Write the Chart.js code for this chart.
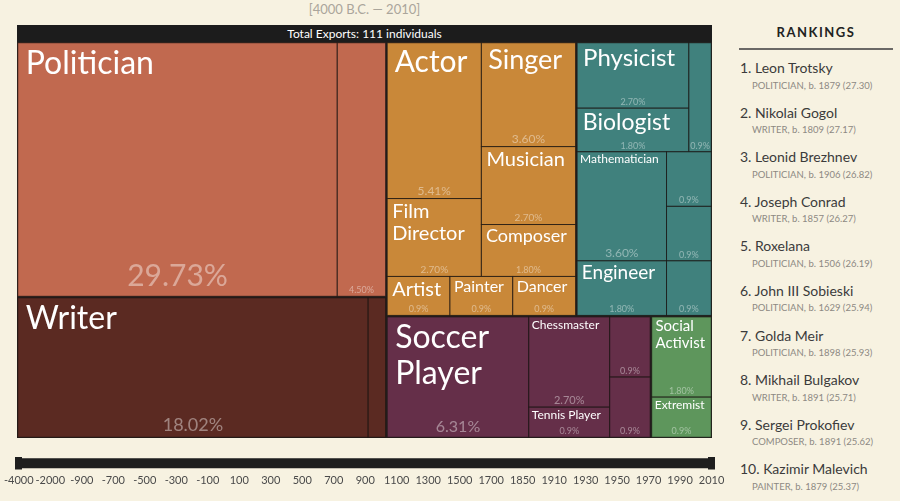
<!DOCTYPE html>
<html>
<head>
<meta charset="utf-8">
<script src="https://cdn.jsdelivr.net/npm/chart.js@4.4.1/dist/chart.umd.min.js"></script>
<style>
  body { margin: 0; width: 900px; height: 501px; overflow: hidden; position: relative;
         background: #f7f2e1; font-family: Lato, 'Open Sans', sans-serif; }
  #range { position: absolute; left: 17px; top: 1px; width: 695px; text-align: center;
           font-size: 13px; color: #aaa59b; }
  #titlebar { position: absolute; left: 17px; top: 25px; width: 695px; height: 17px; line-height: 17px;
              background: #1c1c1c; color: #fff; font-size: 12px; text-align: center; }
  #tree { position: absolute; left: 17px; top: 42px; }
  #timeline { position: absolute; left: 0; top: 440px; }
  #rankings { position: absolute; left: 739px; top: 0; width: 154px; }
  #rankings .head { padding-top: 24px; padding-bottom: 8px; line-height: 16px; text-align: center;
                    font-size: 13px; font-weight: bold; letter-spacing: 1.5px; color: #222;
                    border-bottom: 2px solid #6b6966; }
  #rankings .item { height: 44.6px; padding-top: 9px; box-sizing: border-box; }
  #rankings .name { font-size: 14px; line-height: 18px; color: #3b3b3b; padding-left: 1px; }
  #rankings .sub { font-size: 9.5px; line-height: 12px; color: #8d8983; padding-left: 13px; margin-top: 2.5px; }
</style>
</head>
<body>
<div id="range">[4000 B.C. — 2010]</div>
<div id="titlebar"></div>
<canvas id="tree" width="695" height="396"></canvas>
<canvas id="timeline" width="730" height="50"></canvas>
<div id="rankings"><div class="head">RANKINGS</div><div id="rankList"></div></div>

<script>
// occupations of the 111 people, with their industry and domain
const occupations = ['Politician', 'Military Personnel', 'Writer', 'Philosopher',
    'Actor', 'Film Director', 'Singer', 'Musician', 'Composer', 'Artist', 'Painter', 'Dancer',
    'Physicist', 'Biologist', 'Chemist', 'Mathematician', 'Statistician', 'Computer Scientist', 'Engineer', 'Inventor',
    'Soccer Player', 'Chessmaster', 'Tennis Player', 'Athlete', 'Boxer',
    'Social Activist', 'Extremist'];
const counts = [33, 5, 20, 1,
    6, 3, 4, 3, 2, 1, 1, 1,
    3, 2, 1, 4, 1, 1, 2, 1,
    7, 3, 1, 1, 1,
    2, 1];
const industries = ['Government', 'Military', 'Language', 'Philosophy',
    'Film and Theatre', 'Film and Theatre', 'Music', 'Music', 'Music', 'Fine Arts', 'Fine Arts', 'Dance',
    'Natural Sciences', 'Natural Sciences', 'Natural Sciences', 'Math', 'Math', 'Math', 'Engineering', 'Engineering',
    'Team Sports', 'Games', 'Tennis', 'Athletics', 'Combat Sports',
    'Activism', 'Activism'];
const domains = ['Institutions', 'Institutions', 'Humanities', 'Humanities',
    'Arts', 'Arts', 'Arts', 'Arts', 'Arts', 'Arts', 'Arts', 'Arts',
    'Science & Technology', 'Science & Technology', 'Science & Technology', 'Science & Technology',
    'Science & Technology', 'Science & Technology', 'Science & Technology', 'Science & Technology',
    'Sports', 'Sports', 'Sports', 'Sports', 'Sports',
    'Public Figure', 'Public Figure'];

// timeline slider
const timelineLabels = ['-4000', '-2000', '-900', '-700', '-500', '-300', '-100', '100', '300', '500', '700', '900',
    '1100', '1300', '1500', '1700', '1850', '1910', '1930', '1950', '1970', '1990', '2010'];
const selectedRange = ['-4000', '2010'];

// rankings panel
const rankNames = ['Leon Trotsky', 'Nikolai Gogol', 'Leonid Brezhnev', 'Joseph Conrad', 'Roxelana',
    'John III Sobieski', 'Golda Meir', 'Mikhail Bulgakov', 'Sergei Prokofiev', 'Kazimir Malevich'];
const rankOccupations = ['POLITICIAN', 'WRITER', 'POLITICIAN', 'WRITER', 'POLITICIAN',
    'POLITICIAN', 'POLITICIAN', 'WRITER', 'COMPOSER', 'PAINTER'];
const rankBirthYears = [1879, 1809, 1906, 1857, 1506, 1629, 1898, 1891, 1891, 1879];
const rankScores = ['27.30', '27.17', '26.82', '26.27', '26.19', '25.94', '25.93', '25.71', '25.62', '25.37'];

// colours per domain
const domainColors = {
    'Institutions': '#c1694f',
    'Humanities': '#5b2a22',
    'Arts': '#c98839',
    'Science & Technology': '#40817d',
    'Sports': '#652f49',
    'Public Figure': '#5e965c'
};

Chart.defaults.font.family = 'Lato';

const total = counts.reduce((a, b) => a + b, 0);
document.getElementById('titlebar').textContent = `Total Exports: ${total} individuals`;

// rankings list
const rankList = document.getElementById('rankList');
rankNames.forEach((name, i) => {
    const item = document.createElement('div');
    item.className = 'item';
    item.innerHTML = `<div class="name">${i + 1}. ${name}</div>` +
        `<div class="sub">${rankOccupations[i]}, b. ${rankBirthYears[i]} (${rankScores[i]})</div>`;
    rankList.appendChild(item);
});

// domain -> industry -> occupation tree
const buildTree = () => {
    const root = { children: [] };
    occupations.forEach((occ, i) => {
        let dom = root.children.find(d => d.name === domains[i]);
        if (!dom) { dom = { name: domains[i], children: [] }; root.children.push(dom); }
        let ind = dom.children.find(d => d.name === industries[i]);
        if (!ind) { ind = { name: industries[i], children: [] }; dom.children.push(ind); }
        ind.children.push({ name: occ, value: counts[i], domain: domains[i] });
    });
    const sum = node => {
        if (node.children) {
            node.value = node.children.reduce((s, c) => s + sum(c), 0);
            node.children.sort((a, b) => b.value - a.value);
        }
        return node.value;
    };
    sum(root);
    return root;
};

// squarified layout (golden ratio), same steps as d3.treemapSquarify
const PHI = (1 + Math.sqrt(5)) / 2;
const squarify = (nodes, x0, y0, x1, y1) => {
    let value = nodes.reduce((s, n) => s + n.value, 0);
    let i0 = 0, i1 = 0;
    const n = nodes.length;
    while (i0 < n) {
        const dx = x1 - x0, dy = y1 - y0;
        let sumValue = nodes[i1++].value;
        let minValue = sumValue, maxValue = sumValue;
        const alpha = Math.max(dy / dx, dx / dy) / (value * PHI);
        let beta = sumValue * sumValue * alpha;
        let minRatio = Math.max(maxValue / beta, beta / minValue);
        for (; i1 < n; ++i1) {
            const v = nodes[i1].value;
            sumValue += v;
            if (v < minValue) minValue = v;
            if (v > maxValue) maxValue = v;
            beta = sumValue * sumValue * alpha;
            const newRatio = Math.max(maxValue / beta, beta / minValue);
            if (newRatio > minRatio) { sumValue -= v; break; }
            minRatio = newRatio;
        }
        const row = nodes.slice(i0, i1);
        if (dx < dy) {
            const yk = i1 < n ? y0 + dy * sumValue / value : y1;
            let x = x0;
            row.forEach(nd => {
                const w = dx * nd.value / sumValue;
                Object.assign(nd, { x0: x, x1: x + w, y0: y0, y1: yk });
                x += w;
            });
            y0 = yk;
        } else {
            const xk = i1 < n ? x0 + dx * sumValue / value : x1;
            let y = y0;
            row.forEach(nd => {
                const h = dy * nd.value / sumValue;
                Object.assign(nd, { x0: x0, x1: xk, y0: y, y1: y + h });
                y += h;
            });
            x0 = xk;
        }
        value -= sumValue;
        i0 = i1;
    }
};

const layoutNode = (node, depth) => {
    if (!node.children) return;
    let { x0, y0, x1, y1 } = node;
    if (depth === 1) { x0 += 0.75; y0 += 0.75; x1 -= 0.75; y1 -= 0.75; } // thin gap round each domain
    squarify(node.children, x0, y0, x1, y1);
    node.children.forEach(c => layoutNode(c, depth + 1));
};

const leavesOf = node => node.children ? node.children.flatMap(leavesOf) : [node];

const formatShare = v => {
    const pct = v / total * 100;
    return (pct < 1 ? pct.toFixed(1) : pct.toFixed(2)) + '%';
};

// biggest font that lets the name fit in the cell
const fitName = (ctx, text, w, h, shareSize) => {
    if (w < 50) return null;
    const words = text.split(' ');
    const limitH = Math.min(h * 0.6, h - shareSize - 6);
    for (let size = 32; size >= 9; size--) {
        const pad = Math.max(2, size * 0.25);
        const availW = w - 2 * pad - size * 0.15;
        ctx.font = `${size}px Lato`;
        const lines = [];
        let cur = '';
        let ok = true;
        for (const word of words) {
            if (ctx.measureText(word).width > availW) { ok = false; break; }
            const test = cur ? cur + ' ' + word : word;
            if (ctx.measureText(test).width <= availW) cur = test;
            else { lines.push(cur); cur = word; }
        }
        if (!ok) continue;
        lines.push(cur);
        if (lines.length * size * 1.12 <= limitH) return { size, pad, lines };
    }
    return null;
};

const treemapPlugin = {
    id: 'treemap',
    afterDatasetsDraw(chart) {
        const { ctx, scales: { x, y } } = chart;
        const root = buildTree();
        Object.assign(root, {
            x0: x.getPixelForValue(0), x1: x.getPixelForValue(1),
            y0: y.getPixelForValue(0), y1: y.getPixelForValue(1)
        });
        layoutNode(root, 0);
        const leaves = leavesOf(root);

        ctx.save();
        ctx.fillStyle = '#262222';
        ctx.fillRect(root.x0, root.y0, root.x1 - root.x0, root.y1 - root.y0);

        leaves.forEach(l => {
            ctx.fillStyle = domainColors[l.domain];
            ctx.fillRect(l.x0, l.y0, l.x1 - l.x0, l.y1 - l.y0);
            ctx.strokeStyle = 'rgba(25, 20, 18, 0.75)';
            ctx.lineWidth = 1;
            ctx.strokeRect(l.x0, l.y0, l.x1 - l.x0, l.y1 - l.y0);
        });

        leaves.forEach(l => {
            const w = l.x1 - l.x0, h = l.y1 - l.y0;
            const shareSize = Math.round(Math.min(30, Math.max(9, Math.min(w, h) * 0.13)));

            // share, bottom centre
            const share = formatShare(l.value);
            ctx.font = `${shareSize}px Lato`;
            ctx.textAlign = 'center';
            ctx.textBaseline = 'alphabetic';
            if (ctx.measureText(share).width <= w - 1 && h >= shareSize + 3) {
                ctx.fillStyle = 'rgba(255, 255, 255, 0.42)';
                ctx.fillText(share, (l.x0 + l.x1) / 2, l.y1 - shareSize * 0.33);
            }

            // name, top left
            const fit = fitName(ctx, l.name, w, h, shareSize);
            if (fit) {
                ctx.font = `${fit.size}px Lato`;
                ctx.textAlign = 'left';
                ctx.fillStyle = '#ffffff';
                fit.lines.forEach((line, i) => {
                    ctx.fillText(line, l.x0 + fit.pad, l.y0 + fit.size * (0.97 + i * 1.12));
                });
            }
        });
        ctx.restore();
    }
};

new Chart(document.getElementById('tree'), {
    type: 'scatter',
    data: { datasets: [] },
    options: {
        responsive: false,
        animation: false,
        devicePixelRatio: 1,
        layout: { padding: 0 },
        plugins: { legend: { display: false }, tooltip: { enabled: false } },
        scales: {
            x: { type: 'linear', min: 0, max: 1, display: false },
            y: { type: 'linear', min: 0, max: 1, reverse: true, display: false }
        }
    },
    plugins: [treemapPlugin]
});

// slider handle drawn as point style
const handle = document.createElement('canvas');
handle.width = 7;
handle.height = 15;
const hctx = handle.getContext('2d');
hctx.fillStyle = '#1e1e1e';
hctx.fillRect(0, 0, 7, 15);

new Chart(document.getElementById('timeline'), {
    type: 'line',
    data: {
        labels: timelineLabels,
        datasets: [{
            data: selectedRange.map(v => ({ x: v, y: 0 })),
            borderColor: '#1e1e1e',
            borderWidth: 10,
            borderCapStyle: 'butt',
            pointStyle: handle,
            pointRadius: 7,
            pointHoverRadius: 7
        }]
    },
    options: {
        responsive: false,
        animation: false,
        devicePixelRatio: 1,
        layout: { padding: { left: 17.5, right: 18.4, top: 10.2, bottom: 1 } },
        plugins: { legend: { display: false }, tooltip: { enabled: false } },
        scales: {
            x: {
                offset: false,
                grid: { display: false, drawTicks: false },
                border: { display: false },
                ticks: { autoSkip: false, maxRotation: 0, padding: 4, color: '#4a4a4a', font: { family: 'Lato', size: 11 } }
            },
            y: { display: false, min: -1, max: 1 }
        }
    }
});
</script>
</body>
</html>
